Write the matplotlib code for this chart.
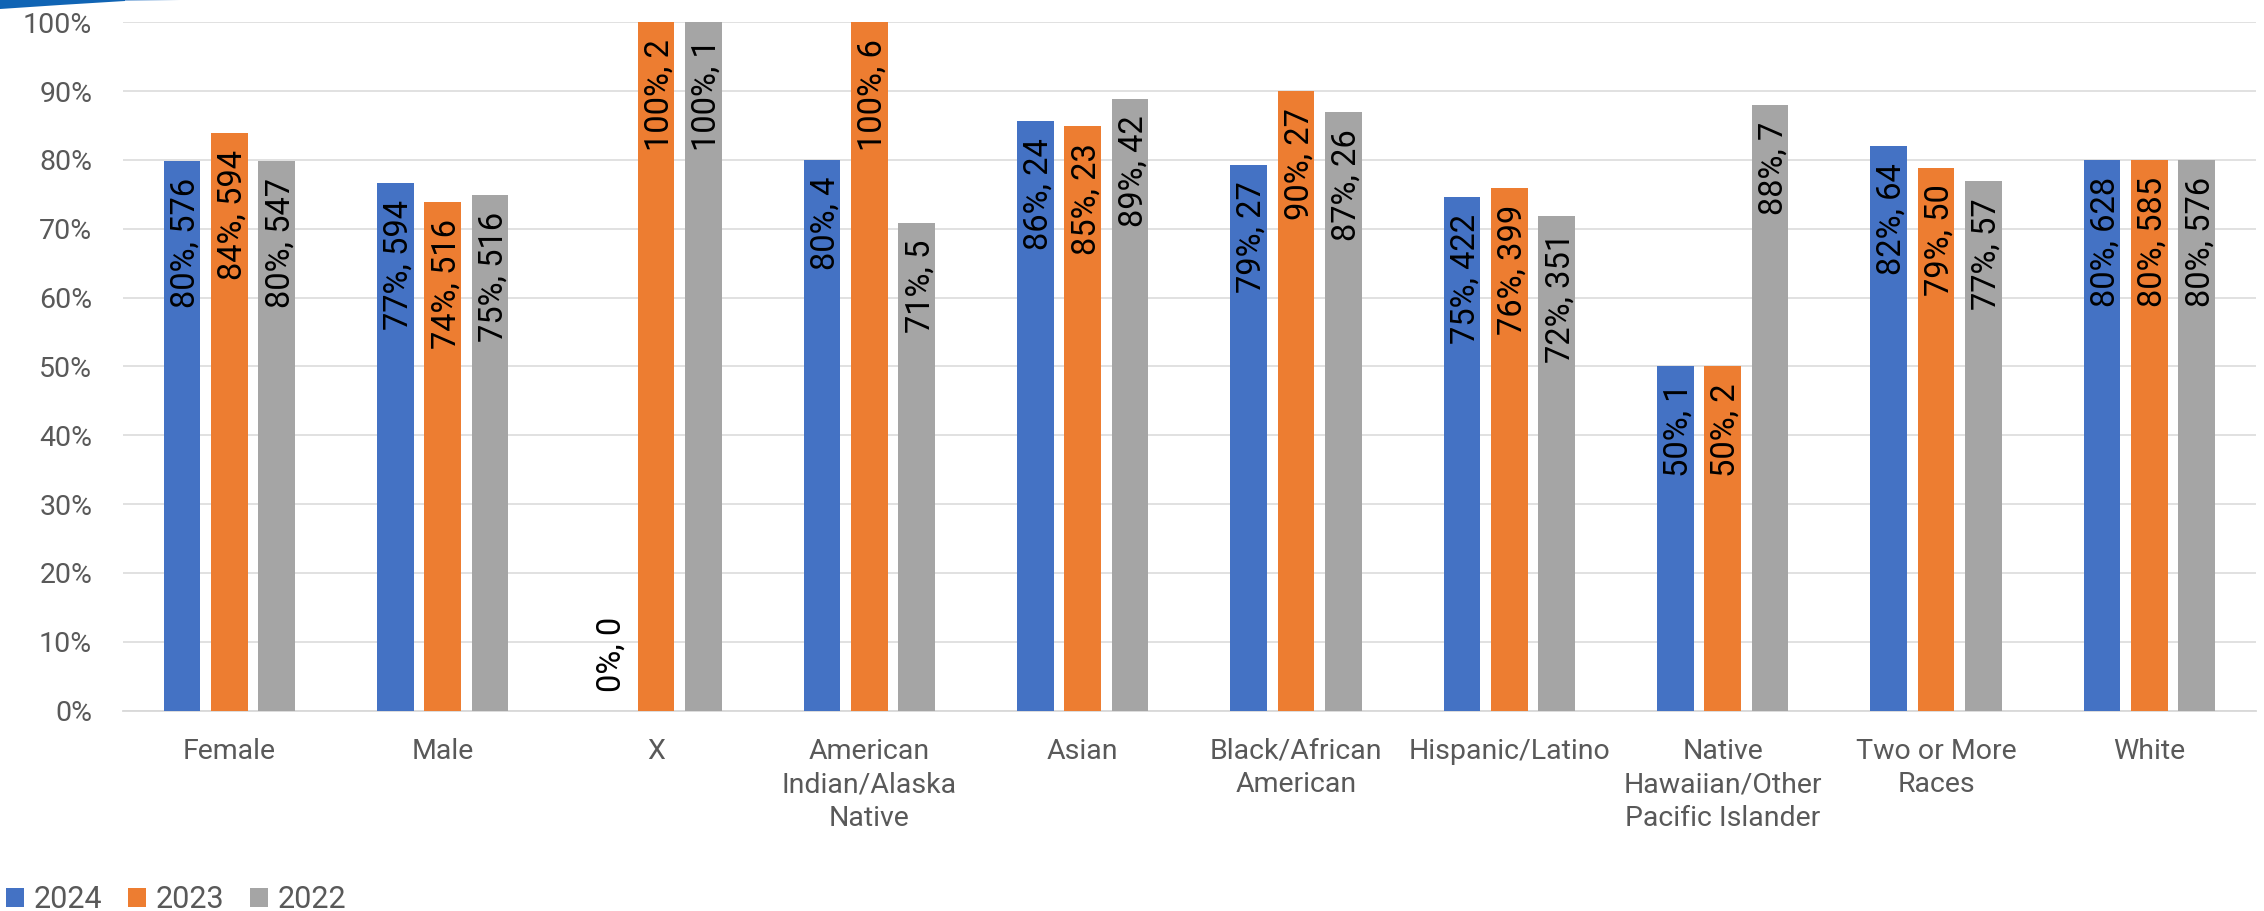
import matplotlib
matplotlib.use("Agg")
import matplotlib.pyplot as plt
from matplotlib.patches import Patch, Polygon
import numpy as np

plt.rcParams['font.family'] = ['Roboto', 'DejaVu Sans']

categories = ["Female", "Male", "X", "American\nIndian/Alaska\nNative", "Asian",
              "Black/African\nAmerican", "Hispanic/Latino",
              "Native\nHawaiian/Other\nPacific Islander", "Two or More\nRaces", "White"]
series_names = ["2024", "2023", "2022"]
pct_2024 = [79.8, 76.7, 0, 80, 85.6, 79.3, 74.6, 50, 82, 80]
pct_2023 = [83.9, 73.9, 100, 100, 84.9, 90, 75.9, 50, 78.9, 80]
pct_2022 = [79.9, 74.9, 100, 70.9, 88.9, 86.9, 71.9, 88, 76.9, 80]
n_2024 = [576, 594, 0, 4, 24, 27, 422, 1, 64, 628]
n_2023 = [594, 516, 2, 6, 23, 27, 399, 2, 50, 585]
n_2022 = [547, 516, 1, 5, 42, 26, 351, 7, 57, 576]
colors = ["#4472C4", "#ED7D31", "#A5A5A5"]
yticks = [0, 10, 20, 30, 40, 50, 60, 70, 80, 90, 100]

W, H = 2264, 911
fig = plt.figure(figsize=(W / 100, H / 100), dpi=100)
ax = fig.add_axes([122.7 / W, (H - 710.5) / H, (2256 - 122.7) / W, (710.5 - 22.3) / H])

x = np.arange(len(categories))
bw = 0.172
off = 0.222
all_pct = [pct_2024, pct_2023, pct_2022]
all_n = [n_2024, n_2023, n_2022]
for i, (p, n, c, name) in enumerate(zip(all_pct, all_n, colors, series_names)):
    xs = x + (i - 1) * off
    ax.bar(xs, p, width=bw, color=c, zorder=3, label=name)
    for xi, pv, nv in zip(xs, p, n):
        txt = f"{round(pv)}%, {nv}"
        if pv == 0:
            ax.annotate(txt, (xi, pv), xytext=(2.5, 13), textcoords='offset points',
                        rotation=90, ha='center', va='bottom', fontsize=23.5,
                        color='black', zorder=4)
        else:
            ax.annotate(txt, (xi, pv), xytext=(2.5, -12.2), textcoords='offset points',
                        rotation=90, ha='center', va='top', fontsize=23.5,
                        color='black', zorder=4)

ax.set_xlim(-0.5, len(categories) - 0.5)
ax.set_ylim(0, 100)
ax.set_yticks(yticks)
ax.set_yticklabels([f"{t}%" for t in yticks])
ax.set_xticks(x)
ax.set_xticklabels(categories, linespacing=1.32)
ax.tick_params(axis='y', length=0, pad=22, labelsize=20.5, labelcolor='#595959')
ax.tick_params(axis='x', length=0, pad=19.5, labelsize=20.5, labelcolor='#595959')
ax.yaxis.grid(True, color='#D9D9D9', linewidth=1.1, zorder=0)
ax.set_axisbelow(True)
for s in ['top', 'right', 'left']:
    ax.spines[s].set_visible(False)
ax.spines['bottom'].set_color('#D9D9D9')
ax.spines['bottom'].set_linewidth(1.3)

handles = [Patch(facecolor=c, edgecolor='none') for c in colors]
fig.legend(handles, series_names, loc='lower left', bbox_to_anchor=(6 / W, -3 / H),
           ncol=3, frameon=False, fontsize=22, handlelength=0.6, handleheight=0.6,
           handletextpad=0.3, columnspacing=0.85, borderpad=0, borderaxespad=0,
           labelcolor='#595959')

# decorative blue swoosh in the top-left corner
fig.patches.append(Polygon([(0, 1 - 9 / H), (60 / W, 1 - 5 / H), (125 / W, 1 - 1 / H),
                            (125 / W, 1.0), (0, 1.0)],
                           closed=True, transform=fig.transFigure, facecolor='#1064B4',
                           edgecolor='none'))
fig.patches.append(Polygon([(125 / W, 1 - 1 / H), (180 / W, 1.0), (125 / W, 1.0)],
                           closed=True, transform=fig.transFigure, facecolor='#8DB4DE',
                           edgecolor='none'))

fig.savefig("out.png", dpi=100)
